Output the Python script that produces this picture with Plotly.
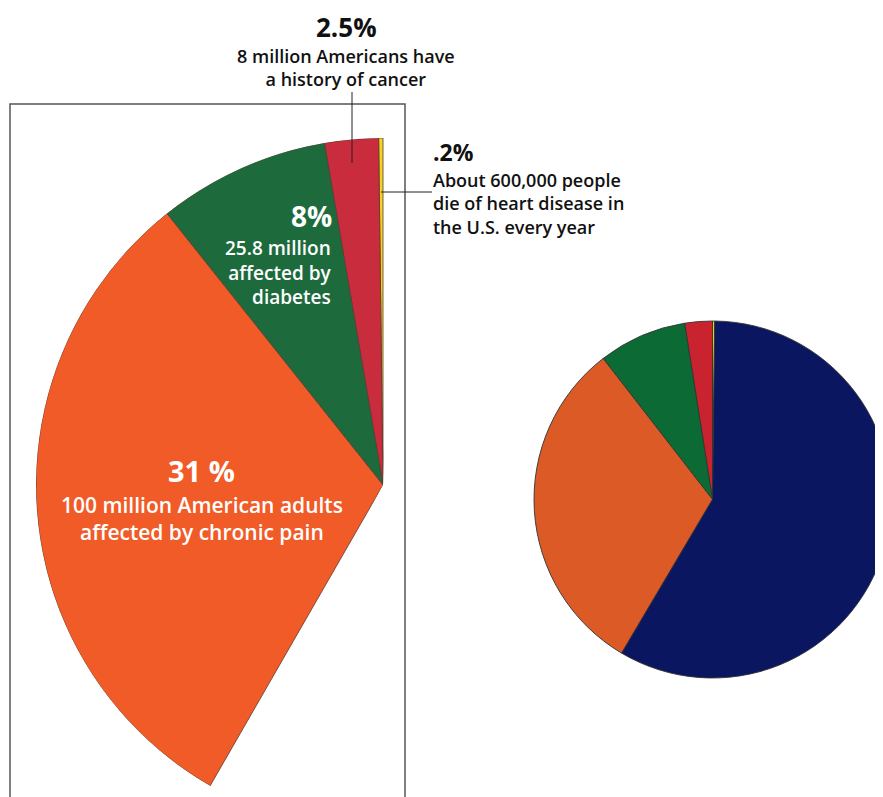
import math
import plotly.graph_objects as go

W, H = 883, 797
OFF = 8  # the page body margin shifts the figure by 8 px

# ---- data ----
labels = ["Heart disease deaths per year", "History of cancer", "Diabetes",
          "Chronic pain", "Everyone else"]
shares = [0.2, 2.5, 8, 31, 58.3]          # percent of U.S. population
highlight_count = 4                        # first four slices are pulled out
big_colors = ["#F4D31E", "#C92C3C", "#1D6B3D", "#F15B27"]
small_colors = ["#F2D20E", "#C8232F", "#0C6A35", "#DB5A25", "#0A1660"]

# ---- helpers for layout positions (screen pixels -> paper) ----
def px(x):
    return (x - OFF) / W

def py(y):
    return 1 - (y - OFF) / H

# ---- big exploded sector (barpolar on a partial polar sector) ----
hl = shares[:highlight_count]
theta, widths = [], []
acc = 0.0
for v in hl:
    theta.append((acc + v / 2) * 3.6)
    widths.append(v * 3.6)
    acc += v

fig = go.Figure()
fig.add_trace(go.Barpolar(
    r=[1] * len(hl), theta=theta, width=widths,
    marker=dict(color=big_colors, line=dict(color="#5b3b30", width=0.8)),
    hoverinfo="skip", showlegend=False, subplot="polar",
))

# ---- small full pie: centre (712.5, 499.5) px, radius ~178.5 px ----
pcx, pcy, pr = 712.5, 499.5, 178.5
fig.add_trace(go.Pie(
    labels=labels, values=shares, sort=False, direction="counterclockwise",
    rotation=0, textinfo="none", hoverinfo="skip", showlegend=False,
    marker=dict(colors=small_colors, line=dict(color="#333333", width=0.9)),
    domain=dict(x=[px(pcx - pr), min(1.0, px(pcx + pr))],
                y=[py(pcy + pr), py(pcy - pr)]),
))

# polar placement: centre (383, 485) px, radius 347 px, sector 88..242 deg
cx, cy, R = 383, 485, 347
s0, s1 = 88, 242
x_right = cx + R * math.cos(math.radians(s0))
y_bottom = cy - R * math.sin(math.radians(s1))

fig.update_layout(
    width=W, height=H, template="none",
    paper_bgcolor="white", plot_bgcolor="white",
    margin=dict(l=0, r=0, t=0, b=0),
    polar=dict(
        domain=dict(x=[px(cx - R), px(x_right)], y=[py(y_bottom), py(cy - R)]),
        sector=[s0, s1], bgcolor="rgba(0,0,0,0)", hole=0, bargap=0,
        radialaxis=dict(visible=False, range=[0, 1]),
        angularaxis=dict(visible=False, rotation=90, direction="counterclockwise"),
    ),
)

FONT = "'Open Sans', Lato, sans-serif"
ann = []

def block(t, x, yc, size, color="#111111", xanchor="center", align="center",
          weight=600, yanchor="middle"):
    ann.append(dict(text=t, x=px(x), y=(1.0 if yanchor == "top" else py(yc)),
                    xref="paper", yref="paper", xanchor=xanchor, yanchor=yanchor,
                    align=align, showarrow=False, borderpad=0,
                    font=dict(family=FONT, size=size, color=color, weight=weight)))

# 2.5 % label
block("2.5%", 346, None, 26, weight=700, yanchor="top")
block("8 million Americans have<br>a history of cancer", 346, 67.5, 18)
# 0.2 % label
block(".2%", 432, 152, 23, xanchor="left", align="left", weight=700)
block("About 600,000 people<br>die of heart disease in<br>the U.S. every year",
      432, 203, 18, xanchor="left", align="left")
# 8 % label
block("8%", 333, 215.5, 28, color="white", xanchor="right", align="right", weight=700)
block("25.8 million<br>affected by<br>diabetes", 333, 273, 19, color="white",
      xanchor="right", align="right")
# 31 % label
block("31 %", 201, 470.5, 29, color="white", weight=700)
block("100 million American adults<br>affected by chronic pain", 202, 518.5, 21,
      color="white")

fig.update_layout(annotations=ann)

shapes = [
    # frame around the pulled-out sector
    dict(type="path", xref="paper", yref="paper",
         path=f"M {px(10)},{py(820)} L {px(10)},{py(104)} L {px(405)},{py(104)} L {px(405)},{py(820)}",
         line=dict(color="#555555", width=1.5)),
    # leader lines
    dict(type="line", xref="paper", yref="paper", x0=px(352), x1=px(352),
         y0=py(92), y1=py(163), line=dict(color="#222222", width=1)),
    dict(type="line", xref="paper", yref="paper", x0=px(381), x1=px(432),
         y0=py(192), y1=py(192), line=dict(color="#222222", width=1)),
]
fig.update_layout(shapes=shapes)

fig.write_html("out.html")
